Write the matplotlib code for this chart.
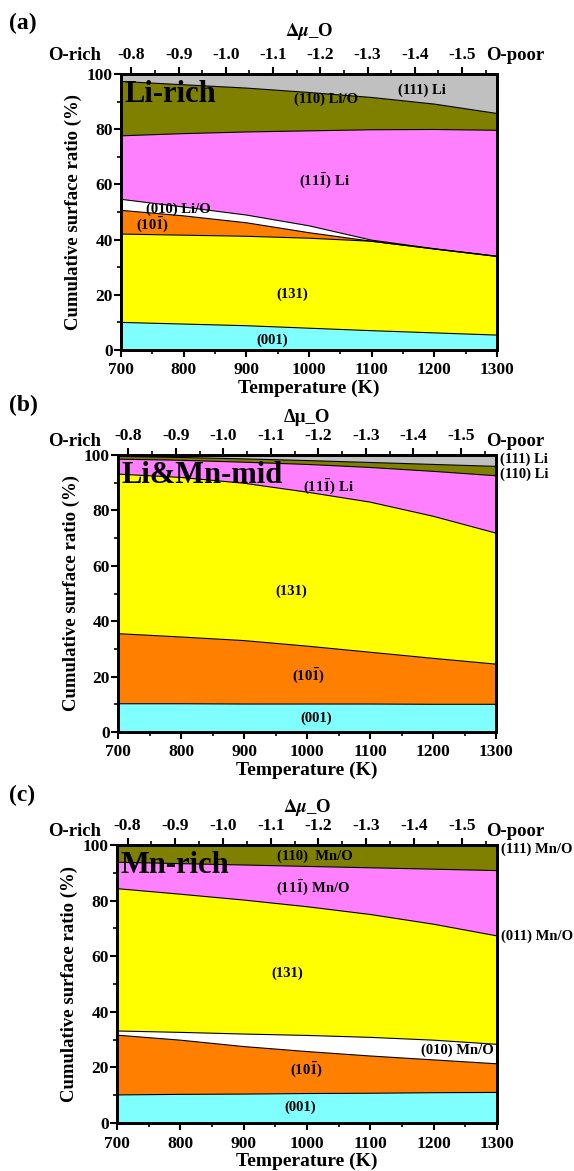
import matplotlib
matplotlib.use('Agg')

import matplotlib.pyplot as plt
from matplotlib.ticker import MultipleLocator, FixedLocator, FormatStrFormatter
import matplotlib.transforms as mtransforms
import numpy as np

plt.rcParams['font.family'] = ['Liberation Serif', 'DejaVu Serif']
plt.rcParams['font.weight'] = 'bold'
plt.rcParams['axes.labelweight'] = 'bold'
plt.rcParams['mathtext.fontset'] = 'stix'
plt.rcParams['axes.unicode_minus'] = False

W, H = 574, 1171

# ---- shared axes data
temps = [700, 800, 900, 1000, 1100, 1200, 1300]
mu_range = (-0.778, -1.574)          # delta mu_O at 700 K and 1300 K
mu_ticks = [-0.8, -0.9, -1.0, -1.1, -1.2, -1.3, -1.4, -1.5]
y_ticks = [0, 20, 40, 60, 80, 100]

# ---- (a) Li-rich: cumulative tops of each facet (%)
a_001 = [10.0, 9.4, 8.8, 7.9, 7.0, 6.2, 5.4]
a_131 = [42.0, 41.6, 41.2, 40.5, 39.4, 36.6, 33.9]
a_10m1 = [50.6, 48.6, 46.1, 42.5, 39.4, 36.6, 33.9]
a_010 = [54.6, 51.8, 48.9, 45.0, 39.8, 36.7, 34.0]
a_11m1 = [77.6, 78.4, 79.0, 79.4, 79.8, 79.9, 79.6]
a_110 = [97.3, 96.1, 94.9, 93.3, 91.5, 89.1, 85.7]
a_111 = [100, 100, 100, 100, 100, 100, 100]

# ---- (b) Li&Mn-mid
b_001 = [10.2, 10.2, 10.1, 10.1, 10.1, 10.0, 10.0]
b_10m1 = [35.5, 34.3, 33.0, 31.0, 28.8, 26.6, 24.5]
b_131 = [93.1, 91.9, 89.8, 86.6, 83.0, 77.9, 71.8]
b_11m1 = [98.5, 98.1, 97.4, 96.6, 95.5, 94.1, 92.5]
b_110 = [99.5, 99.1, 98.6, 98.0, 97.3, 96.6, 95.9]
b_111 = [100, 100, 100, 100, 100, 100, 100]

# ---- (c) Mn-rich
c_001 = [10.1, 10.3, 10.4, 10.6, 10.7, 10.9, 11.0]
c_10m1 = [31.6, 29.8, 27.5, 25.7, 24.1, 22.7, 21.3]
c_010 = [33.1, 32.6, 32.0, 31.5, 30.8, 29.8, 28.3]
c_131 = [84.3, 82.3, 80.2, 77.8, 75.0, 71.5, 67.3]
c_11m1 = [93.8, 93.3, 92.8, 92.3, 91.8, 91.3, 90.8]
c_110 = [100, 100, 100, 100, 100, 100, 100]

CYAN = '#80ffff'
YELLOW = '#ffff00'
ORANGE = '#ff8000'
WHITE = '#ffffff'
PINK = '#ff80ff'
OLIVE = '#808000'
GREY = '#c0c0c0'

BAR1 = r'(11$\mathbf{\bar{1}}$)'
BAR_101 = r'(10$\mathbf{\bar{1}}$)'


def fx(x):
    return x / W


def fy(y):
    return 1 - y / H


def add_axes_px(fig, left, top, right, bottom):
    return fig.add_axes([left / W, 1 - bottom / H,
                         (right - left) / W, (bottom - top) / H])


def stack(ax, tops, colors):
    lower = np.zeros(len(temps))
    for top, color in zip(tops, colors):
        top = np.asarray(top, dtype=float)
        ax.fill_between(temps, lower, top, facecolor=color,
                        edgecolor='none', zorder=1)
        ax.plot(temps, top, color='black', lw=0.8, zorder=2)
        lower = top


def style(ax):
    ax.set_xlim(700, 1300)
    ax.set_ylim(0, 100)
    ax.xaxis.set_major_locator(MultipleLocator(100))
    ax.xaxis.set_minor_locator(MultipleLocator(50))
    ax.yaxis.set_major_locator(FixedLocator(y_ticks))
    ax.yaxis.set_minor_locator(MultipleLocator(10))
    ax.tick_params(which='major', direction='out', length=5, width=1.5,
                   labelsize=12.5, pad=4)
    ax.tick_params(which='minor', direction='out', length=3, width=1.2)
    ax.tick_params(axis='y', pad=1)
    ax.tick_params(top=False, right=False, which='both')
    for sp in ax.spines.values():
        sp.set_linewidth(2)
    ax.set_xlabel('Temperature (K)', fontsize=14, labelpad=1)
    ax.set_ylabel('Cumulative surface ratio (%)', fontsize=13.5, labelpad=3)

    # chemical potential scale on top
    top = ax.twiny()
    top.set_xlim(*mu_range)
    top.xaxis.set_major_locator(FixedLocator(mu_ticks))
    top.xaxis.set_minor_locator(MultipleLocator(0.05))
    top.xaxis.set_major_formatter(FormatStrFormatter('%.1f'))
    top.tick_params(which='major', direction='out', length=5, width=1.5,
                    labelsize=12.5, pad=3)
    top.tick_params(which='minor', direction='out', length=3, width=1.2)
    for sp in top.spines.values():
        sp.set_linewidth(2)
    return top


def header(fig, ax, tag, tag_y, mu_y, italic_mu=True):
    bb = ax.get_position()
    cx = (bb.x0 + bb.x1) / 2
    fig.text(fx(9), fy(tag_y), tag, fontsize=17, ha='left', va='center')
    mu = r'$\Delta\mu$_O' if italic_mu else 'Δμ_O'
    fig.text(cx, fy(mu_y), mu, fontsize=13.5, ha='center', va='center')
    lab_y = mu_y + 24
    fig.text(fx(101), fy(lab_y), 'O-rich', fontsize=13.5, ha='right',
             va='center')
    fig.text(fx(486), fy(lab_y), 'O-poor', fontsize=13.5, ha='left',
             va='center')


fig = plt.figure(figsize=(W / 100, H / 100), dpi=100)
fig.patch.set_facecolor('white')

# ---------------------------------------------------------------- (a)
ax_a = add_axes_px(fig, 121, 74, 497, 350)
stack(ax_a, [a_001, a_131, a_10m1, a_010, a_11m1, a_110, a_111],
      [CYAN, YELLOW, ORANGE, WHITE, PINK, OLIVE, GREY])
style(ax_a)
ax_a.text(705, 89.7, 'Li-rich', fontsize=22, va='baseline', zorder=5)
ax_a.text(1180, 94.1, '(111) Li', fontsize=10.5, ha='center', va='center')
ax_a.text(1027, 90.8, '(110) Li/O', fontsize=10.5, ha='center', va='center')
ax_a.text(1025, 61.0, BAR1 + ' Li', fontsize=10.5, ha='center', va='center')
ax_a.text(740, 51.0, '(010) Li/O', fontsize=10.5, ha='left', va='center')
ax_a.text(751, 45.2, BAR_101, fontsize=10.5, ha='center', va='center')
ax_a.text(973, 20.3, '(131)', fontsize=10.5, ha='center', va='center')
ax_a.text(941, 3.6, '(001)', fontsize=10.5, ha='center', va='center')
header(fig, ax_a, '(a)', 23, 32)

# ---------------------------------------------------------------- (b)
ax_b = add_axes_px(fig, 118, 455, 496, 732)
stack(ax_b, [b_001, b_10m1, b_131, b_11m1, b_110, b_111],
      [CYAN, ORANGE, YELLOW, PINK, OLIVE, GREY])
style(ax_b)
ax_b.text(706, 89.8, 'Li&Mn-mid', fontsize=22, va='baseline', zorder=5)
ax_b.text(1034, 88.2, BAR1 + ' Li', fontsize=10.5, ha='center', va='center')
ax_b.text(975, 50.9, '(131)', fontsize=10.5, ha='center', va='center')
ax_b.text(1002, 20.0, BAR_101, fontsize=10.5, ha='center', va='center')
ax_b.text(1015, 4.9, '(001)', fontsize=10.5, ha='center', va='center')
tr_b = mtransforms.blended_transform_factory(ax_b.transAxes, ax_b.transData)
ax_b.text(1.01, 98.3, '(111) Li', fontsize=10.5, transform=tr_b, va='center')
ax_b.text(1.01, 93.1, '(110) Li', fontsize=10.5, transform=tr_b, va='center')
header(fig, ax_b, '(b)', 405, 417, italic_mu=False)

# ---------------------------------------------------------------- (c)
ax_c = add_axes_px(fig, 117, 845, 497, 1123)
stack(ax_c, [c_001, c_10m1, c_010, c_131, c_11m1, c_110],
      [CYAN, ORANGE, WHITE, YELLOW, PINK, OLIVE])
style(ax_c)
ax_c.text(706, 89.9, 'Mn-rich', fontsize=22, va='baseline', zorder=5)
ax_c.text(1013, 95.8, '(110)  Mn/O', fontsize=10.5, ha='center', va='center')
ax_c.text(1010, 84.4, BAR1 + ' Mn/O', fontsize=10.5, ha='center', va='center')
ax_c.text(969, 53.8, '(131)', fontsize=10.5, ha='center', va='center')
ax_c.text(1295, 26.3, '(010) Mn/O', fontsize=10.5, ha='right', va='center')
ax_c.text(999, 19.1, BAR_101, fontsize=10.5, ha='center', va='center')
ax_c.text(990, 5.5, '(001)', fontsize=10.5, ha='center', va='center')
tr_c = mtransforms.blended_transform_factory(ax_c.transAxes, ax_c.transData)
ax_c.text(1.01, 98.5, '(111) Mn/O', fontsize=10.5, transform=tr_c, va='center')
ax_c.text(1.01, 67.3, '(011) Mn/O', fontsize=10.5, transform=tr_c, va='center')
header(fig, ax_c, '(c)', 795, 808)

fig.savefig('out.png', dpi=100)
